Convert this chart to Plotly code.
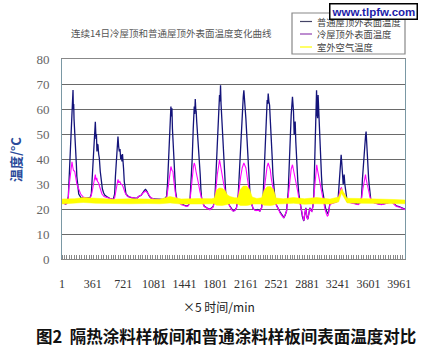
import plotly.graph_objects as go

# ---------------- data (sample index = 5-min step, value in °C) ----------------
normal_pts = [
(1,23.0),(20,22.3),(45,22.0),(60,22.5),(75,25),(80,29.6),(90,35),(99,40.3),(108,50),(112,53),(118,57.6),(124,62),(130,67.6),(134,60),(138,62),(142,56),(146,52),(150,50),(157,43),(163,44),(169,38),(175,33),(181,30),(197,26),(228,24.3),(250,24.5),(290,24.3),(330,24.5),
(345,26),(358,34),(372,42.9),(382,49),(392,54.9),(400,48),(405,50),(411,43),(417,46),(423,45.6),(431,42),(439,40.3),(450,35),(462,31),(475,28),(490,26.4),(505,25.5),(525,25),(560,24.3),(603,23.8),
(619,26),(628,33),(638,40),(648,45),(658,49),(666,45),(674,43),(682,44),(690,40),(697,41.7),(705,39),(711,42),(717,40),(724,36),(732,31),(742,28),(752,26),(780,25),(820,24.5),(877,24.2),
(900,25),(930,25.5),(955,27),(970,27.5),(983,27.8),(1000,27),(1020,25.5),(1040,24.5),(1080,24),(1130,23.8),(1180,23.8),(1210,24.2),
(1229,25),(1240,30),(1250,37),(1257,40.4),(1265,50),(1272,57),(1280,61),(1286,57),(1292,60.3),(1298,52),(1304,47),(1312,41),(1319,36.4),(1327,31),(1335,27),(1354,23),(1380,22.5),(1405,21.9),(1440,21.5),(1464,21.2),(1485,21.5),
(1503,23),(1515,30),(1530,40),(1542,52),(1554,61),(1560,58),(1566,64),(1572,60),(1577,59),(1583,55),(1589,52),(1597,50),(1603,46),(1609,45.7),(1616,40),(1624,33.8),(1632,28),(1640,24.5),(1655,22.5),(1671,21.2),(1700,20.5),(1738,19.9),(1760,20.5),(1777,21),
(1797,24.5),(1806,32),(1816,40.4),(1826,48),(1836,56),(1844,60),(1851,65.6),(1857,63),(1863,69.5),(1869,62),(1875,57.6),(1880,60),(1886,53.6),(1892,50),(1898,45),(1906,38),(1914,31),(1923,27),(1933,24.5),(1950,22.5),(1973,21.2),(1995,19.8),(2012,19.2),(2030,19.5),(2050,20.5),
(2071,25.8),(2085,36),(2098,47),(2110,56),(2122,63),(2130,65),(2137,67.5),(2145,64),(2153,63),(2161,56),(2169,51),(2176,46),(2184,40.4),(2192,35),(2200,29.8),(2210,25.5),(2219,23),(2235,21),(2247,20),(2280,19.5),(2300,19.8),(2325,19.2),(2345,20.5),
(2364,25.8),(2376,36),(2388,47),(2400,56),(2411,63.6),(2417,62),(2423,66.2),(2431,63),(2439,61.6),(2447,56),(2454,52.3),(2462,46),(2470,40.4),(2478,34),(2486,29.8),(2495,26),(2505,23),(2520,21.5),(2540,20.5),(2560,19),(2579,17.9),(2595,17),(2607,16.6),(2622,17.5),(2638,19.2),
(2658,27),(2668,37),(2677,47),(2685,52),(2693,57.6),(2700,61),(2708,64.9),(2714,62),(2720,59),(2728,49.7),(2734,53),(2740,55),(2747,47),(2755,40.4),(2763,35),(2771,31),(2783,26),(2795,23),(2805,21),(2814,19.2),(2825,17),(2841,15.2),(2852,18),(2865,20.5),(2876,17),(2888,15.9),(2900,18),(2912,20.5),(2925,19.5),(2935,19.2),(2948,21),
(2959,25.8),(2970,40),(2978,52),(2985,63),(2991,67.5),(2997,58),(3003,56.3),(3009,65.6),(3015,60),(3020,53.6),(3030,47),(3041,39),(3049,33),(3057,28.5),(3070,25),(3081,23.2),(3095,20.5),(3108,19.2),(3118,18.5),(3128,17.9),(3137,20),(3147,21.9),(3165,22.3),(3186,22.5),(3205,22.8),(3225,23),
(3245,24.5),(3255,29),(3264,33.8),(3272,38),(3280,41.7),(3286,39),(3292,36.4),(3298,32),(3304,29.8),(3310,32),(3315,33.8),(3323,30),(3331,27.8),(3340,25),(3350,23.2),(3375,22.8),(3401,22.5),(3440,22.2),(3480,21.9),(3500,22.5),
(3519,24.5),(3530,32),(3542,39),(3550,43),(3558,47),(3566,49),(3573,51),(3579,46),(3585,43),(3591,39),(3597,35),(3603,32),(3609,29.8),(3618,26),(3628,23.8),(3650,23),(3675,22.5),(3710,22.2),(3753,21.9),(3800,22.3),(3840,22.8),(3871,23),(3900,22.2),(3929,21.2),(3960,21),(3988,20.5),(4010,20),(4032,19.9),
]

cool_pts = [
(1,23.0),(20,22.3),(45,22.0),(60,22.5),(75,24.5),(80,28),(99,33.6),(112,37),(118,38.9),(126,37),(135,35.5),(150,35),(160,32),(175,30),(197,28),(220,26),(250,24.8),(290,24.3),(330,24.4),
(345,25.5),(360,28),(375,31),(385,33),(392,33.8),(400,31.5),(408,32.5),(418,31),(430,30.5),(442,29),(455,27.5),(470,26),(495,25),(525,24.7),(560,24.3),(603,23.8),
(619,24.5),(635,28),(648,30),(658,31.8),(668,30.5),(680,31),(692,30),(705,29.8),(717,29),(728,28),(742,26.5),(770,25),(820,24.5),(877,24.2),
(900,25),(930,25.5),(955,26.5),(983,27.2),(1005,26.5),(1025,25.3),(1045,24.5),(1080,24),(1130,23.8),(1180,23.8),(1210,24),
(1229,24.5),(1245,28),(1257,31),(1268,35),(1280,37),(1292,35.5),(1304,35),(1315,31),(1327,27.5),(1335,25.8),(1354,23),(1380,22.3),(1405,21.7),(1440,21.3),(1464,21),(1485,21.3),
(1503,23),(1518,28),(1530,33.8),(1545,37),(1554,38.4),(1562,37.5),(1575,35),(1590,33),(1605,30),(1620,27),(1636,24.5),(1655,22.5),(1671,21),(1700,20.3),(1738,19.7),(1760,20.3),(1777,20.8),
(1797,24),(1810,29),(1825,33.8),(1840,37),(1851,39.7),(1860,38),(1870,35),(1885,33),(1900,30),(1914,27.8),(1930,25),(1945,23.2),(1973,21),(1995,19.6),(2012,19.2),(2030,19.3),(2050,20.3),
(2071,24.5),(2085,29),(2100,33),(2118,36.5),(2137,38.4),(2150,37),(2161,36.4),(2175,33),(2188,29.8),(2200,27),(2215,23.8),(2235,21.5),(2247,19.9),(2280,19.3),(2300,19.5),(2325,19.2),(2345,20.3),
(2364,24.5),(2378,29),(2395,33.8),(2410,37),(2423,38.4),(2435,36.5),(2447,35.8),(2460,32),(2476,28.5),(2490,25.5),(2505,23.8),(2525,21),(2540,20.3),(2560,18.5),(2579,17.5),(2595,16.8),(2607,16.6),(2622,17.5),(2638,19),
(2658,25),(2670,30),(2683,33.8),(2693,36),(2708,37.7),(2718,36),(2728,35),(2740,33),(2755,31),(2770,27),(2782,24.5),(2795,22.5),(2814,19),(2825,16.8),(2841,15.3),(2852,18),(2865,20.3),(2876,16.8),(2888,15.9),(2900,18),(2912,20.3),(2925,19.3),(2935,19),(2948,20.8),
(2959,24.5),(2972,31),(2983,35),(2993,37.7),(3003,35.5),(3012,33.8),(3025,31.5),(3041,28.5),(3055,25),(3070,23),(3090,20),(3108,17.9),(3118,17.2),(3128,17.5),(3137,19.8),(3147,21.7),(3165,22.1),(3186,22.3),(3205,22.6),(3225,22.8),
(3245,24.3),(3255,26),(3264,27.8),(3275,28.3),(3284,28.5),(3294,27),(3304,25.8),(3315,26),(3331,24.5),(3350,23),(3375,22.6),(3401,22.3),(3440,22),(3480,21.7),(3500,22.3),
(3519,24.3),(3535,28),(3547,31),(3560,33),(3566,33.8),(3573,32),(3581,31),(3592,29),(3605,27),(3617,25),(3628,23.8),(3650,22.8),(3675,22.3),(3710,22),(3753,21.7),(3800,22.1),(3840,22.6),(3871,22.8),(3900,22),(3929,21),(3960,20.8),(3988,20.3),(4010,19.8),(4032,19.7),
]

# outdoor air temperature: sample index, central value, lower and upper edge of the noisy trace
air_x   = [1,150,250,400,600,800,1000,1150,1270,1400,1600,1760,1790,1815,1845,1880,1915,1945,1975,2030,2065,2095,2130,2170,2205,2235,2290,2345,2375,2410,2450,2485,2515,2600,2720,2850,2990,3150,3250,3284,3320,3350,3500,3700,3900,4032]
air_mid = [23.0,23.2,23.6,23.3,23.0,23.1,23.2,23.0,23.6,23.0,23.1,23.1,23.3,24.8,25.3,25.3,25.0,24.0,23.5,23.2,23.4,25.0,25.5,25.5,24.8,23.4,23.1,23.4,24.8,25.3,25.3,24.8,23.3,23.1,23.4,23.0,23.3,23.0,23.8,27.3,25.0,23.4,23.3,23.2,23.0,22.8]
air_lo  = [22.0,22.2,22.6,22.3,22.1,22.1,22.2,22.1,22.4,22.0,22.0,22.1,22.1,21.5,21.4,21.4,21.6,22.0,22.1,22.1,22.0,21.4,21.3,21.4,21.6,22.0,22.0,22.0,21.5,21.4,21.4,21.6,22.0,22.1,22.3,21.9,22.1,22.0,22.8,26.3,24.0,22.4,22.3,22.3,22.2,22.1]
air_hi  = [24.0,24.1,24.6,24.3,23.9,24.1,24.1,23.9,25.0,24.0,24.2,24.1,24.4,27.5,28.4,28.3,27.5,25.6,25.0,24.5,24.5,27.8,29.2,29.2,27.8,24.8,24.2,24.5,27.5,28.9,29.0,27.8,24.4,24.1,24.6,24.1,24.6,24.0,24.8,28.2,26.0,24.3,24.2,24.1,23.8,23.6]

x_tick_vals = [1,361,721,1081,1441,1801,2161,2521,2881,3241,3601,3961]
y_tick_vals = [0,10,20,30,40,50,60,70,80]

series_names = ["普通屋顶外表面温度", "冷屋顶外表面温度", "室外空气温度"]
chart_title = "连续14日冷屋顶和普通屋顶外表面温度变化曲线"
x_title = "×5 时间/min"
y_title = "温度/°C"
caption = "图2  隔热涂料样板间和普通涂料样板间表面温度对比"
watermark = "www.tlpfw.com"

# ---------------- figure ----------------
NAVY = "#14147a"
MAG = "#ff00ff"
YEL = "#ffff00"

fig = go.Figure()
fig.add_trace(go.Scatter(x=[p[0] for p in normal_pts], y=[p[1] for p in normal_pts],
                         mode="lines", line=dict(color=NAVY, width=1.3), name=series_names[0], showlegend=False))
fig.add_trace(go.Scatter(x=[p[0] for p in cool_pts], y=[p[1] for p in cool_pts],
                         mode="lines", line=dict(color=MAG, width=1.1), name=series_names[1], showlegend=False))
fig.add_trace(go.Scatter(x=air_x, y=air_lo, mode="lines", line=dict(color=YEL, width=0.5),
                         showlegend=False, hoverinfo="skip"))
fig.add_trace(go.Scatter(x=air_x, y=air_hi, mode="lines", line=dict(color=YEL, width=0.5),
                         fill="tonexty", fillcolor=YEL, showlegend=False, hoverinfo="skip"))
fig.add_trace(go.Scatter(x=air_x, y=air_mid, mode="lines", line=dict(color=YEL, width=1),
                         name=series_names[2], showlegend=False))

PX_L, PX_R, PX_T, PX_B = 62, 405, 59, 259
W, H = 422, 349
def px2x(px):
    return (px - PX_L) / (PX_R - PX_L)
def px2y(py):
    return (PX_B - py) / (PX_B - PX_T)

fig.update_layout(
    width=W, height=H,
    margin=dict(l=PX_L, r=W - PX_R, t=PX_T, b=H - PX_B),
    paper_bgcolor="white", plot_bgcolor="white",
    showlegend=False,
    xaxis=dict(range=[0.5, 4030], tickmode="array", tickvals=x_tick_vals,
               ticktext=[str(v) for v in x_tick_vals], ticks="", showgrid=False,
               showline=True, linecolor="#888", linewidth=1, mirror=True,
               tickfont=dict(family="Liberation Serif", size=12, color="#333"),
               ticklabelstandoff=14, zeroline=False,
               minor=dict(tickmode="linear", tick0=1, dtick=28.8, ticks="inside",
                          ticklen=4, tickcolor="#888", tickwidth=1, showgrid=False)),
    yaxis=dict(range=[0, 80], tickmode="array", tickvals=y_tick_vals, ticks="",
               showgrid=True, gridcolor="#6a6a6a", gridwidth=1,
               showline=True, linecolor="#7a98a4", linewidth=1, mirror=True,
               tickfont=dict(family="Liberation Serif", size=13, color="#666"),
               ticklabelstandoff=9, zeroline=False),
)

ann = []
ann.append(dict(text=chart_title, x=px2x(171), y=px2y(33), xref="paper", yref="paper",
                showarrow=False, font=dict(family="Noto Sans CJK SC", size=9.5, color="#555"),
                xanchor="center", yanchor="middle"))
ann.append(dict(text=y_title, x=px2x(15), y=px2y(160), xref="paper", yref="paper", textangle=-90,
                showarrow=False, font=dict(family="Noto Sans CJK SC", size=13, color="#2a4a9a", weight="bold"),
                xanchor="center", yanchor="middle"))
ann.append(dict(text=x_title, x=px2x(219), y=px2y(306), xref="paper", yref="paper",
                showarrow=False, font=dict(family="Noto Sans CJK SC", size=12, color="#222"),
                xanchor="center", yanchor="middle"))
ann.append(dict(text=caption, x=px2x(226), y=px2y(336), xref="paper", yref="paper",
                showarrow=False, font=dict(family="Noto Sans CJK SC", size=16.5, color="#111", weight="bold"),
                xanchor="center", yanchor="middle"))

# legend (box + samples + labels)
shapes = [dict(type="rect", xref="paper", yref="paper", x0=px2x(292), x1=px2x(405), y0=px2y(54), y1=px2y(13),
               line=dict(color="#888", width=1.2), fillcolor="white", layer="above")]
leg_y = [21.5, 34, 47]
leg_cols = ["#444466", "#9040b0", YEL]
for name, yy, col in zip(series_names, leg_y, leg_cols):
    shapes.append(dict(type="line", xref="paper", yref="paper", x0=px2x(300), x1=px2x(312),
                       y0=px2y(yy), y1=px2y(yy), line=dict(color=col, width=1.2), layer="above"))
    ann.append(dict(text=name, x=px2x(315), y=px2y(yy), xref="paper", yref="paper", showarrow=False,
                    xanchor="left", yanchor="middle",
                    font=dict(family="Noto Sans CJK SC", size=9.3, color="#444")))

ann.append(dict(text="<b>" + watermark + "</b>", x=px2x(373), y=px2y(12), xref="paper", yref="paper",
                showarrow=False, xanchor="center", yanchor="middle",
                font=dict(family="Liberation Sans", size=11.5, color="#1c1ca8"),
                bgcolor="white", bordercolor="black", borderwidth=1.5, borderpad=1))

fig.update_layout(annotations=ann, shapes=shapes)
fig.write_html("out.html")
